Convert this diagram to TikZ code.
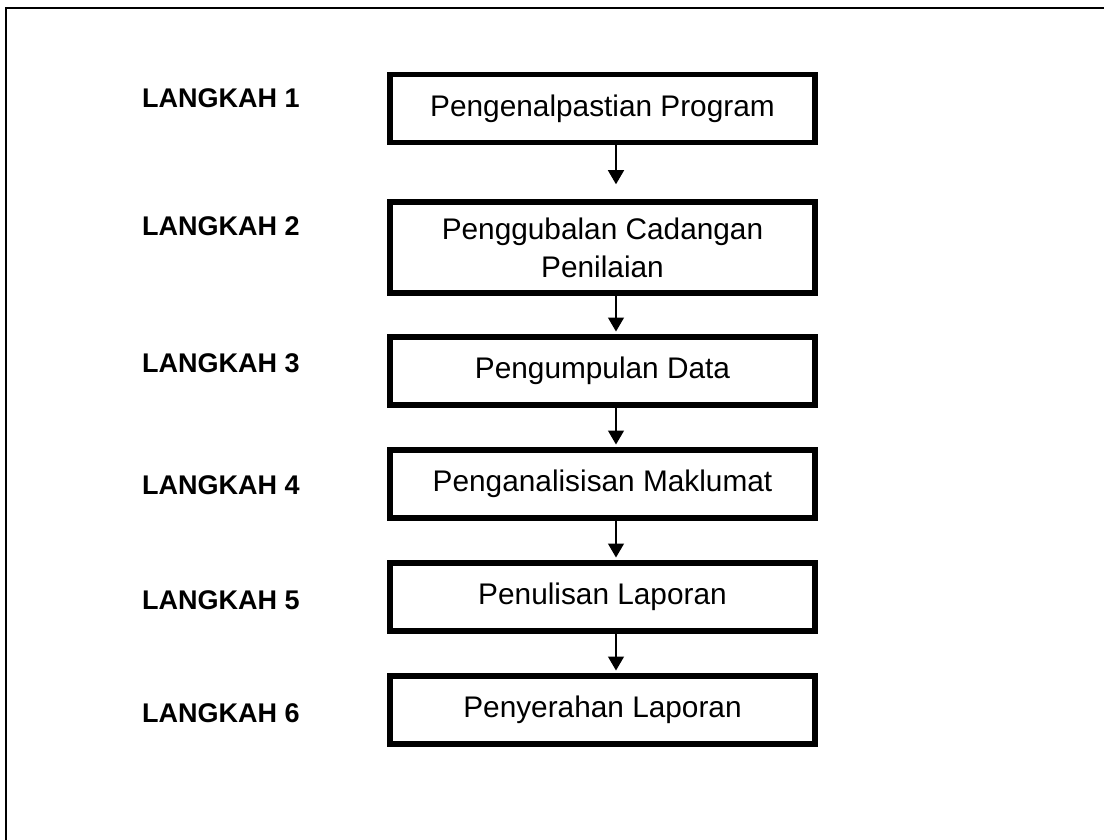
\documentclass[tikz,border=0pt]{standalone}
\usepackage{fontspec}
\setmainfont{Liberation Sans}
\usetikzlibrary{arrows.meta}

\tikzset{kotak/.style={ draw, line width=5.5pt, rectangle, inner sep=0pt, align=center,
  minimum width=425pt, minimum height=68pt, font=\fontsize{29.8}{38}\selectfont}}
\tikzset{panah/.style={ -{Triangle[width=16pt,length=14pt]}, line width=1.3pt}}

\begin{document}
\begin{tikzpicture}[x=1pt, y=-1pt]
\tikzstyle{tajuk}=[anchor=west, inner sep=0pt, font=\fontsize{27}{32}\selectfont\bfseries]
\useasboundingbox (0,0) rectangle (1104,840);
\draw[line width=2pt] (6,840) -- (6,8) -- (1104,8);

\node[kotak] (k1) at (602.5,108.5) {Pengenalpastian Program};
\node[kotak, minimum height=91pt] (k2) at (602.5,247.5) {Penggubalan Cadangan\\Penilaian};
\node[kotak] (k3) at (602.5,371) {Pengumpulan Data};
\node[kotak] (k4) at (602.5,484) {Penganalisisan Maklumat};
\node[kotak] (k5) at (602.5,597) {Penulisan Laporan};
\node[kotak] (k6) at (602.5,710) {Penyerahan Laporan};

\node[tajuk] (t1) at (142,98) {LANGKAH 1};
\node[tajuk] (t2) at (142,226) {LANGKAH 2};
\node[tajuk] (t3) at (142,363) {LANGKAH 3};
\node[tajuk] (t4) at (142,485) {LANGKAH 4};
\node[tajuk] (t5) at (142,600) {LANGKAH 5};
\node[tajuk] (t6) at (142,713) {LANGKAH 6};

\draw[panah] ([xshift=13.5pt]k1.south) -- ([xshift=13.5pt, yshift=15pt]k2.north);
\foreach \a/\b in {k2/k3, k3/k4, k4/k5, k5/k6}
  \draw[panah] ([xshift=13.5pt]\a.south) -- ([xshift=13.5pt, yshift=2.75pt]\b.north);
\end{tikzpicture}
\end{document}
